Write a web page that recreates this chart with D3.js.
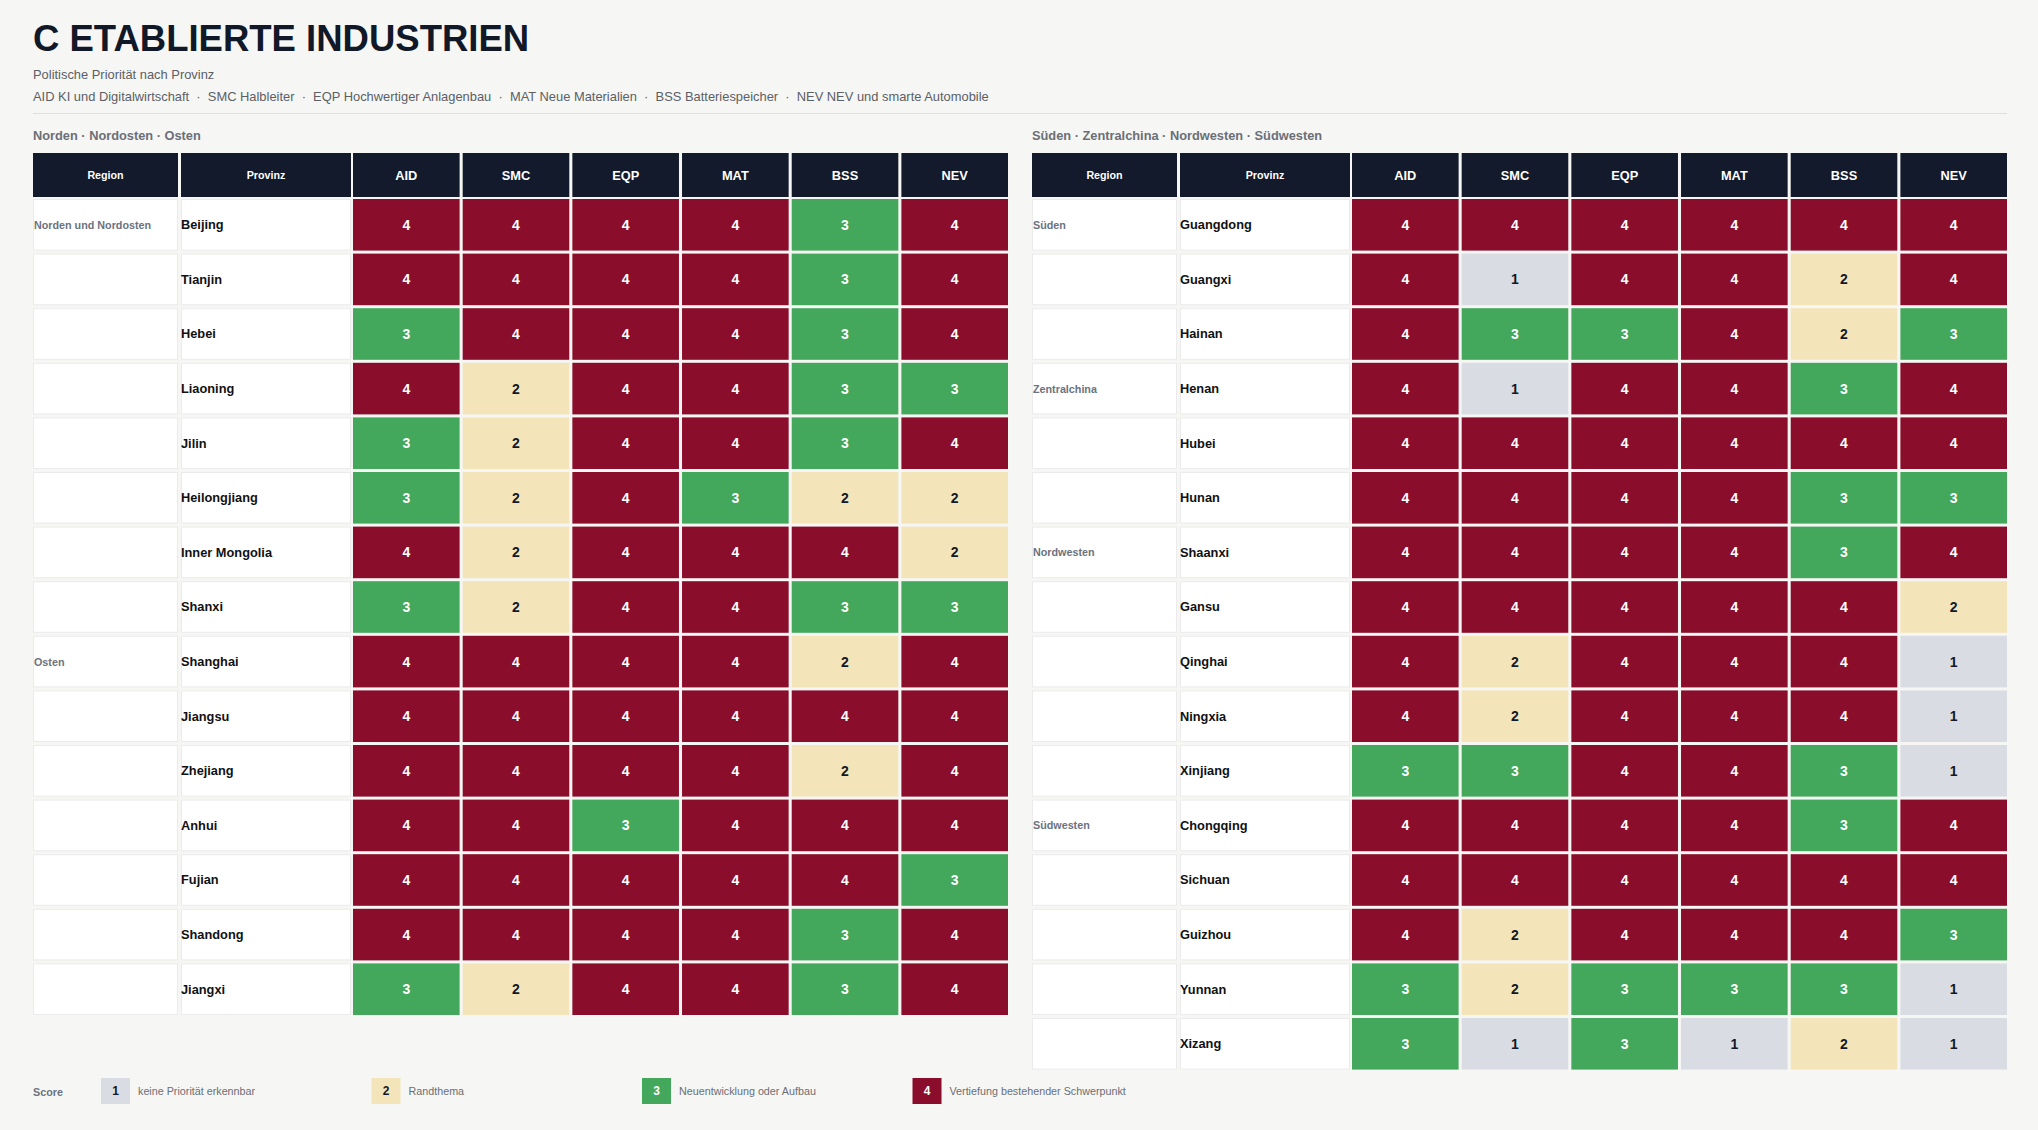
<!DOCTYPE html>
<html>
<head>
<meta charset="utf-8">
<script src="https://cdn.jsdelivr.net/npm/d3@7"></script>
<style>
  body { margin: 0; background: #f6f6f4; }
  svg { display: block; font-family: "Liberation Sans", Arial, Helvetica, sans-serif; }
</style>
</head>
<body>
<script>
  const width = 2038;
  const height = 1130;

  // Spalten (Industrien)
  const columns = ["AID", "SMC", "EQP", "MAT", "BSS", "NEV"];
  const columnNames = [
    "KI und Digitalwirtschaft",
    "Halbleiter",
    "Hochwertiger Anlagenbau",
    "Neue Materialien",
    "Batteriespeicher",
    "NEV und smarte Automobile",
  ];

  // linke Tabelle
  const leftProvinces = [
    "Beijing", "Tianjin", "Hebei", "Liaoning", "Jilin", "Heilongjiang",
    "Inner Mongolia", "Shanxi", "Shanghai", "Jiangsu", "Zhejiang",
    "Anhui", "Fujian", "Shandong", "Jiangxi",
  ];
  const leftRegions = [
    "Norden und Nordosten", "", "", "", "", "", "", "",
    "Osten", "", "", "", "", "", "",
  ];
  const leftScores = [
    [4, 4, 4, 4, 3, 4],
    [4, 4, 4, 4, 3, 4],
    [3, 4, 4, 4, 3, 4],
    [4, 2, 4, 4, 3, 3],
    [3, 2, 4, 4, 3, 4],
    [3, 2, 4, 3, 2, 2],
    [4, 2, 4, 4, 4, 2],
    [3, 2, 4, 4, 3, 3],
    [4, 4, 4, 4, 2, 4],
    [4, 4, 4, 4, 4, 4],
    [4, 4, 4, 4, 2, 4],
    [4, 4, 3, 4, 4, 4],
    [4, 4, 4, 4, 4, 3],
    [4, 4, 4, 4, 3, 4],
    [3, 2, 4, 4, 3, 4],
  ];

  // rechte Tabelle
  const rightProvinces = [
    "Guangdong", "Guangxi", "Hainan", "Henan", "Hubei", "Hunan",
    "Shaanxi", "Gansu", "Qinghai", "Ningxia", "Xinjiang",
    "Chongqing", "Sichuan", "Guizhou", "Yunnan", "Xizang",
  ];
  const rightRegions = [
    "Süden", "", "", "Zentralchina", "", "", "Nordwesten", "", "", "", "",
    "Südwesten", "", "", "", "",
  ];
  const rightScores = [
    [4, 4, 4, 4, 4, 4],
    [4, 1, 4, 4, 2, 4],
    [4, 3, 3, 4, 2, 3],
    [4, 1, 4, 4, 3, 4],
    [4, 4, 4, 4, 4, 4],
    [4, 4, 4, 4, 3, 3],
    [4, 4, 4, 4, 3, 4],
    [4, 4, 4, 4, 4, 2],
    [4, 2, 4, 4, 4, 1],
    [4, 2, 4, 4, 4, 1],
    [3, 3, 4, 4, 3, 1],
    [4, 4, 4, 4, 3, 4],
    [4, 4, 4, 4, 4, 4],
    [4, 2, 4, 4, 4, 3],
    [3, 2, 3, 3, 3, 1],
    [3, 1, 3, 1, 2, 1],
  ];

  const scoreValues = [1, 2, 3, 4];
  const scoreLabels = [
    "keine Priorität erkennbar",
    "Randthema",
    "Neuentwicklung oder Aufbau",
    "Vertiefung bestehender Schwerpunkt",
  ];

  const fill = d3
    .scaleOrdinal()
    .domain(scoreValues)
    .range(["#d9dce3", "#f3e5b9", "#43a85c", "#8a0e2b"]);
  const ink = d3
    .scaleOrdinal()
    .domain(scoreValues)
    .range(["#111827", "#111827", "#ffffff", "#ffffff"]);

  const svg = d3
    .select("body")
    .append("svg")
    .attr("width", width)
    .attr("height", height);

  // Titel
  svg
    .append("text")
    .attr("x", 33)
    .attr("y", 51)
    .attr("font-size", 36.5)
    .attr("font-weight", "bold")
    .attr("fill", "#111827")
    .text("C ETABLIERTE INDUSTRIEN");

  svg
    .append("text")
    .attr("x", 33)
    .attr("y", 74)
    .attr("dominant-baseline", "central")
    .attr("font-size", 12.9)
    .attr("fill", "#5b5f66")
    .text("Politische Priorität nach Provinz");

  svg
    .append("text")
    .attr("x", 33)
    .attr("y", 96)
    .attr("dominant-baseline", "central")
    .attr("font-size", 12.9)
    .attr("fill", "#5b5f66")
    .attr("xml:space", "preserve")
    .text(columns.map((c, i) => c + " " + columnNames[i]).join("  ·  "));

  svg
    .append("line")
    .attr("x1", 33)
    .attr("x2", 2007)
    .attr("y1", 113.5)
    .attr("y2", 113.5)
    .attr("stroke", "#dcdfe4")
    .attr("stroke-width", 1);

  function drawTable(x0, label, provinces, regions, scores) {
    const g = svg.append("g");
    const tableRight = x0 + 975;

    g.append("text")
      .attr("x", x0)
      .attr("y", 135)
      .attr("dominant-baseline", "central")
      .attr("font-size", 12.8)
      .attr("font-weight", "bold")
      .attr("fill", "#6b6f76")
      .text(label);

    const x = d3
      .scaleBand()
      .domain(columns)
      .range([x0 + 320, tableRight])
      .paddingInner(0.028);

    const y = d3
      .scaleBand()
      .domain(provinces)
      .range([199, 199 + provinces.length * 54.6 - 3])
      .paddingInner(3 / 54.6);

    const fixedCols = [
      { name: "Region", x: x0, w: 145 },
      { name: "Provinz", x: x0 + 148, w: 170 },
    ];

    // Kopfzeile
    const head = g.append("g");
    head
      .selectAll(".hfix")
      .data(fixedCols)
      .enter()
      .append("rect")
      .attr("x", (d) => d.x)
      .attr("y", 153)
      .attr("width", (d) => d.w)
      .attr("height", 44)
      .attr("fill", "#121a2b");
    head
      .selectAll(".hfixt")
      .data(fixedCols)
      .enter()
      .append("text")
      .attr("x", (d) => d.x + d.w / 2)
      .attr("y", 175)
      .attr("text-anchor", "middle")
      .attr("dominant-baseline", "central")
      .attr("font-size", 10.7)
      .attr("font-weight", "bold")
      .attr("fill", "#ffffff")
      .text((d) => d.name);
    head
      .selectAll(".hcol")
      .data(columns)
      .enter()
      .append("rect")
      .attr("x", (d) => x(d))
      .attr("y", 153)
      .attr("width", x.bandwidth())
      .attr("height", 44)
      .attr("fill", "#121a2b");
    head
      .selectAll(".hcolt")
      .data(columns)
      .enter()
      .append("text")
      .attr("x", (d) => x(d) + x.bandwidth() / 2)
      .attr("y", 175)
      .attr("text-anchor", "middle")
      .attr("dominant-baseline", "central")
      .attr("font-size", 12.8)
      .attr("font-weight", "bold")
      .attr("fill", "#ffffff")
      .text((d) => d);

    // Zeilen
    const rows = g
      .selectAll(".row")
      .data(provinces)
      .enter()
      .append("g")
      .attr("transform", (d) => "translate(0," + y(d) + ")");

    rows
      .selectAll(".fix")
      .data(fixedCols)
      .enter()
      .append("rect")
      .attr("x", (d) => d.x + 0.5)
      .attr("y", 0.5)
      .attr("width", (d) => d.w - 1)
      .attr("height", y.bandwidth() - 1)
      .attr("fill", "#ffffff")
      .attr("stroke", "#ebebeb")
      .attr("stroke-width", 1);

    rows
      .append("text")
      .attr("x", x0 + 1)
      .attr("y", y.bandwidth() / 2)
      .attr("dominant-baseline", "central")
      .attr("font-size", 10.75)
      .attr("font-weight", "bold")
      .attr("fill", "#6b7280")
      .text((d, i) => regions[i]);

    rows
      .append("text")
      .attr("x", x0 + 148)
      .attr("y", y.bandwidth() / 2)
      .attr("dominant-baseline", "central")
      .attr("font-size", 12.8)
      .attr("font-weight", "bold")
      .attr("fill", "#111111")
      .text((d) => d);

    const cells = rows
      .selectAll(".cell")
      .data((d, i) => scores[i].map((v, j) => ({ col: columns[j], value: v })))
      .enter()
      .append("g");

    cells
      .append("rect")
      .attr("x", (d) => x(d.col))
      .attr("y", 0)
      .attr("width", x.bandwidth())
      .attr("height", y.bandwidth())
      .attr("fill", (d) => fill(d.value));

    cells
      .append("text")
      .attr("x", (d) => x(d.col) + x.bandwidth() / 2)
      .attr("y", y.bandwidth() / 2)
      .attr("text-anchor", "middle")
      .attr("dominant-baseline", "central")
      .attr("font-size", 14)
      .attr("font-weight", "bold")
      .attr("fill", (d) => ink(d.value))
      .text((d) => d.value);
  }

  drawTable(33, "Norden · Nordosten · Osten", leftProvinces, leftRegions, leftScores);
  drawTable(1032, "Süden · Zentralchina · Nordwesten · Südwesten", rightProvinces, rightRegions, rightScores);

  // Legende
  const legend = svg.append("g");
  legend
    .append("text")
    .attr("x", 33)
    .attr("y", 1092)
    .attr("dominant-baseline", "central")
    .attr("font-size", 10.75)
    .attr("font-weight", "bold")
    .attr("fill", "#6b7280")
    .text("Score");

  const lx = d3.scaleBand().domain(scoreValues).range([101, 101 + 4 * 270.5]);

  const items = legend
    .selectAll(".item")
    .data(scoreValues)
    .enter()
    .append("g")
    .attr("transform", (d) => "translate(" + lx(d) + ",1078)");

  items
    .append("rect")
    .attr("width", 29)
    .attr("height", 26)
    .attr("fill", (d) => fill(d));

  items
    .append("text")
    .attr("x", 14.5)
    .attr("y", 13)
    .attr("text-anchor", "middle")
    .attr("dominant-baseline", "central")
    .attr("font-size", 12)
    .attr("font-weight", "bold")
    .attr("fill", (d) => ink(d))
    .text((d) => d);

  items
    .append("text")
    .attr("x", 37)
    .attr("y", 13)
    .attr("dominant-baseline", "central")
    .attr("font-size", 10.75)
    .attr("fill", "#6b6f76")
    .text((d, i) => scoreLabels[i]);
</script>
</body>
</html>
